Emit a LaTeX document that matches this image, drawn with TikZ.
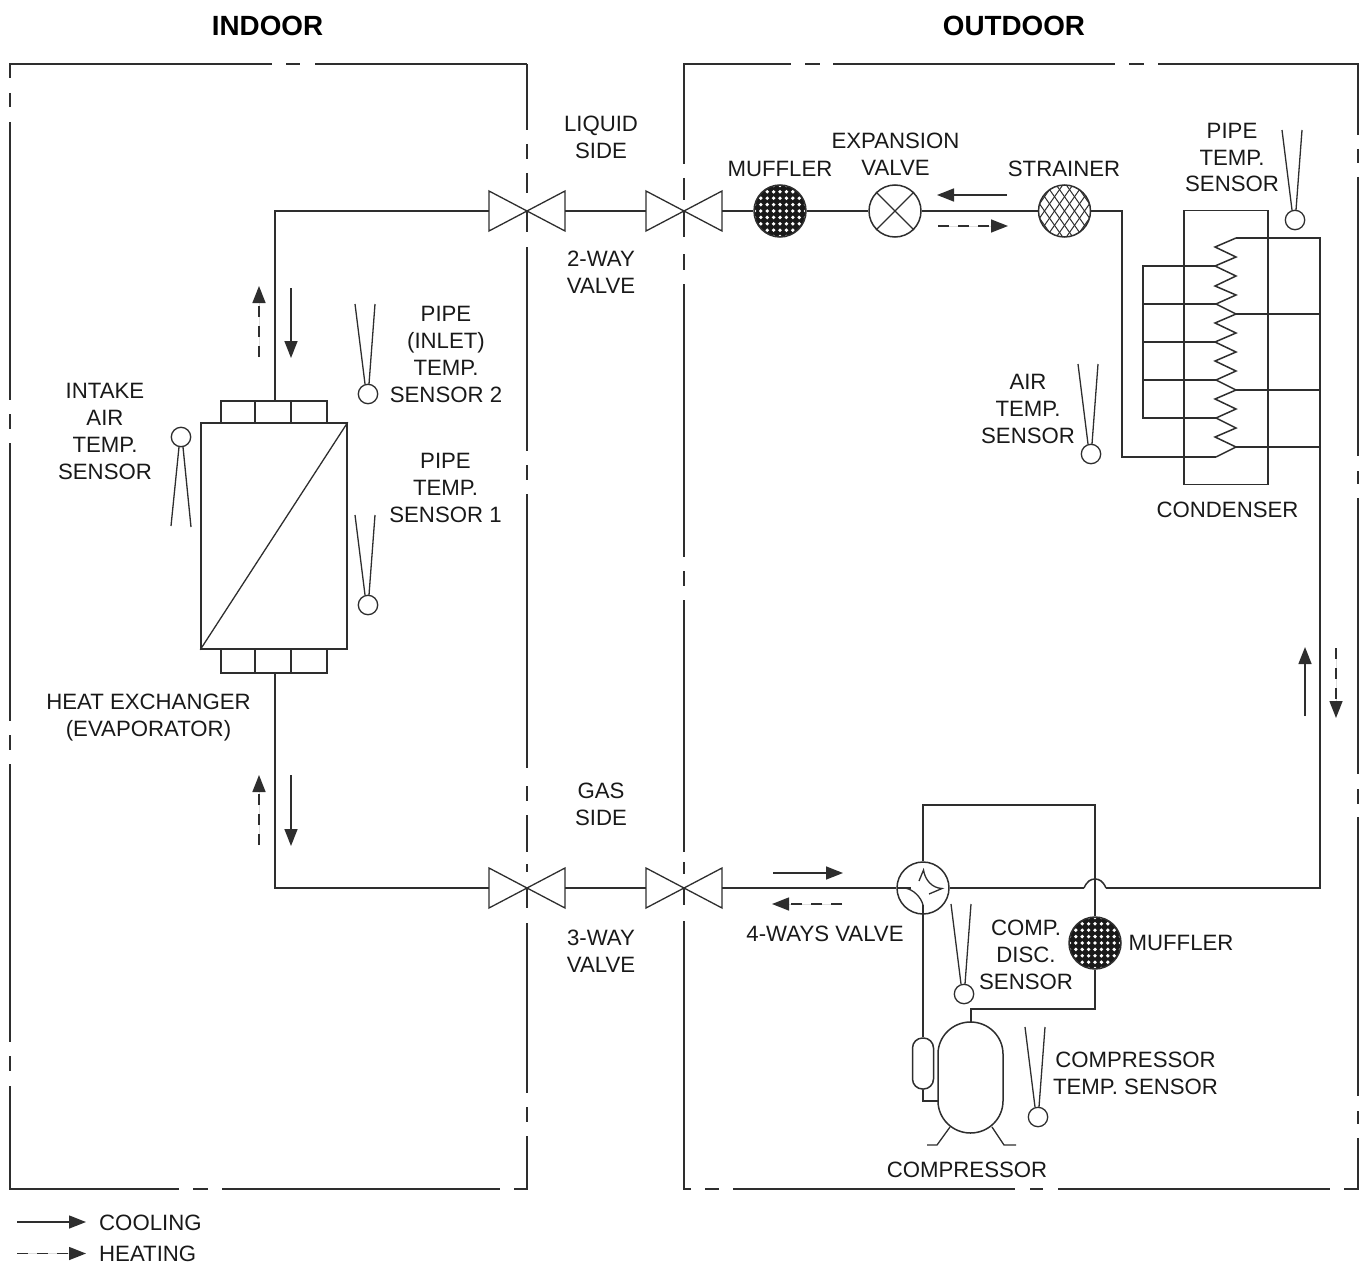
\documentclass[tikz,border=0pt]{standalone}
\usepackage{fontspec}
\setmainfont{Liberation Sans}
\usetikzlibrary{arrows.meta}
\definecolor{ink}{HTML}{2E2E2E}
\tikzset{
  pipe/.style={draw=ink,line width=1.5pt},
  bound/.style={draw=ink,line width=1.6pt},
  thinpart/.style={draw=ink,line width=1.3pt},
  label/.style={align=center,inner sep=0pt,text=black!90,font=\fontsize{22.2}{26.8}\selectfont},
  title/.style={inner sep=0pt,text=black,font=\bfseries\fontsize{27.8}{30}\selectfont},
  round part/.style={circle,draw=ink,line width=1.5pt,minimum size=52pt,inner sep=0pt},
  flowtip/.style={-{Triangle[length=17pt,width=13pt]},line width=1.5pt,draw=ink,fill=black},
  cool/.style={flowtip},
  heat/.style={flowtip,dash pattern=on 11pt off 9pt},
  valvepic/.pic={\draw[thinpart,line join=miter] (-38,-20)--(38,20)--(38,-20)--(-38,20)--cycle;},
  sensordown/.pic={\draw[thinpart] (0,0) circle[radius=9.7];
    \draw[thinpart] (-3,-10)--(-13,-90) (1,-10)--(7,-90);},
  sensorup/.pic={\draw[thinpart] (0,0) circle[radius=9.7];
    \draw[thinpart] (-2,10)--(-10,89) (2,10)--(10,90);},
  mufflerpic/.pic={\begin{scope}
      \clip (0,0) circle[radius=26];
      \fill[black!90] (-27,-27) rectangle (27,27);
      \foreach \i in {-4,...,4}\foreach \j in {-4,...,4}
        \fill[white] (\i*6.4,\j*6.4) circle[radius=1.9];
    \end{scope}},
  strainerpic/.pic={\begin{scope}
      \clip (0,0) circle[radius=26];
      \foreach \i in {-6,...,6}{
        \draw[ink,line width=1pt] (\i*10-21,-30)--(\i*10+21,30);
        \draw[ink,line width=1pt] (\i*10+21,-30)--(\i*10-21,30);}
    \end{scope}},
}
\begin{document}
\begin{tikzpicture}[x=1pt,y=-1pt]
\useasboundingbox (0,0) rectangle (1367,1268);

% enclosure outlines
\draw[bound] (10,78)--(10,64)--(272,64);
\foreach \a/\b in {286/300,315/527} \draw[bound] (\a,64)--(\b,64);
\foreach \a/\b in {93/107,122/400,414/429,443/721,735/750,764/1042,1056/1071} \draw[bound] (10,\a)--(10,\b);
\draw[bound] (10,1086)--(10,1189)--(179,1189);
\foreach \a/\b in {193/208,222/500} \draw[bound] (\a,1189)--(\b,1189);
\draw[bound] (514,1189)--(527,1189)--(527,1136);
\draw[bound] (527,64)--(527,130);
\foreach \a/\b in {144/159,173/193,211/232,247/451,465/480,494/768,786/801,815/852,864/872,888/908,923/1093,1107/1122} \draw[bound] (527,\a)--(527,\b);

\draw[bound] (684,164)--(684,64)--(791,64);
\foreach \a/\b in {805/820,833/1115,1129/1144} \draw[bound] (\a,64)--(\b,64);
\draw[bound] (1158,64)--(1358,64)--(1358,135);
\foreach \a/\b in {149/163,177/456,471/484,498/774,789/804,817/1096,1111/1124} \draw[bound] (1358,\a)--(1358,\b);
\draw[bound] (1358,1138)--(1358,1189)--(1344,1189);
\foreach \a/\b in {733/1015,1030/1043,1058/1330,705/719} \draw[bound] (\a,1189)--(\b,1189);
\draw[bound] (691,1189)--(684,1189)--(684,921);
\foreach \a/\b in {178/200,211/237,254/270,284/557,571/586,600/852,862/874,888/905} \draw[bound] (684,\a)--(684,\b);

% titles
\node[title] (tIn) at (267.5,26) {INDOOR};
\node[title] (tOut) at (1014,26) {OUTDOOR};

% valves
\coordinate (vA) at (527,211); \coordinate (vAw) at (489,211); \coordinate (vAe) at (565,211);
\coordinate (vB) at (684,211); \coordinate (vBw) at (646,211); \coordinate (vBe) at (722,211);
\coordinate (vC) at (527,888); \coordinate (vCw) at (489,888); \coordinate (vCe) at (565,888);
\coordinate (vD) at (684,888); \coordinate (vDw) at (646,888); \coordinate (vDe) at (722,888);
\foreach \v in {vA,vB,vC,vD} \pic at (\v) {valvepic};

% round parts
\pic at (780,211) {mufflerpic};
\pic at (1095,943) {mufflerpic};
\pic at (1064.5,211) {strainerpic};
\node[round part] (mufA) at (780,211) {};
\node[round part] (expv) at (895,211) {};
\node[round part] (strn) at (1064.5,211) {};
\node[round part] (mufB) at (1095,943) {};
\node[round part] (fway) at (923,888) {};
\draw[thinpart] (expv.45)--(expv.225) (expv.135)--(expv.315);

% 4-way valve internals
\draw[thinpart] (919,881)--(923.5,870) .. controls (925,880) and (932,888) .. (942,888.5)--(929,894);
\draw[thinpart] (898,888)--(911,888);
\draw[thinpart] (904.5,888) .. controls (913,889) and (921,897) .. (923,905);

% indoor coil
\node[draw=ink,line width=1.5pt,inner sep=0pt,minimum width=146pt,minimum height=226pt] (hx) at (274,536) {};
\draw[thinpart] (hx.south west)--(hx.north east);
\foreach \a/\b in {221/255,255/291,291/327}{
  \draw[thinpart] (\a,423) rectangle (\b,401);
  \draw[thinpart] (\a,649) rectangle (\b,673);}
\coordinate (hxT) at (275,401);
\coordinate (hxB) at (275,673);
\coordinate (cnA) at (275,211);
\coordinate (cnB) at (275,888);

% pipes
\draw[pipe] (hxT)--(cnA)--(vAw);
\draw[pipe] (hxB)--(cnB)--(vCw);
\draw[pipe] (vAe)--(vBw);
\draw[pipe] (vCe)--(vDw);
\draw[pipe] (vBe)--(mufA);
\draw[pipe] (mufA)--(expv);
\draw[pipe] (expv)--(strn);
\draw[pipe] (vDe)--(fway.west);

% outdoor coil
\node[draw=ink,line width=1.5pt,inner sep=0pt,minimum width=84pt,minimum height=274pt] (cond) at (1226,347.5) {};
\coordinate (coilA) at (1216,457);
\coordinate (coilB) at (1236,238);
\draw[pipe] (strn)--(1122,211)--(1122,457)--(coilA);
\draw[pipe,line join=miter] (coilB)--(1215,247)--(1236,257)--(1215,266)--(1236,276)--(1215,286)--(1236,295)--(1216,304)
  --(1236,314)--(1215,323)--(1236,333)--(1215,342)--(1236,352)--(1215,361)--(1236,371)--(1216,380)
  --(1236,390)--(1215,399)--(1236,409)--(1216,418)--(1236,428)--(1215,437)--(1236,447)--(coilA);
\draw[pipe] (1216,266)--(1143,266)--(1143,418)--(1216,418);
\foreach \y in {304,342,380} \draw[pipe] (1143,\y)--(1216,\y);
\foreach \y in {314,390,447} \draw[pipe] (1236,\y)--(1320,\y);

\coordinate (hopW) at (1084,888); \coordinate (hopE) at (1106,888);
\draw[pipe] (coilB)--(1320,238)--(1320,888)--(hopE);
\draw[pipe] (hopE) .. controls (1103,881) and (1099,879) .. (1095,879) .. controls (1091,879) and (1087,881) .. (hopW);
\draw[pipe] (hopW)--(fway.east);
\draw[pipe] (fway.north)--(923,805)--(1095,805)--(1095,879);
\draw[pipe] (1095,879)--(mufB);

% compressor
\coordinate (compT) at (971,1022);
\draw[pipe] (mufB)--(1095,1009)--(971,1009)--(compT);
\draw[pipe] (938,1054) arc[start angle=180,end angle=360,x radius=32.5,y radius=32]
  --(1003,1101) arc[start angle=0,end angle=180,x radius=32.5,y radius=32]--cycle;
\draw[thinpart] (950,1127)--(937,1145)--(927,1145);
\draw[thinpart] (992,1127)--(1004,1145)--(1016,1145);
\node[draw=ink,line width=1.5pt,rounded corners=10pt,inner sep=0pt,minimum width=21pt,minimum height=51pt] (accu) at (923,1063.5) {};
\draw[pipe] (923,905)--(accu.north);
\draw[pipe] (accu.south)--(923,1101)--(938,1101);

% sensors
\pic at (1295,220) {sensordown};
\pic at (368,394) {sensordown};
\pic at (368,605) {sensordown};
\pic at (1091,454) {sensordown};
\pic at (964,994) {sensordown};
\pic at (1038,1117) {sensordown};
\pic at (181,437) {sensorup};

% flow arrows
\coordinate (aA1) at (259,357); \coordinate (aA2) at (259,286);
\coordinate (aB1) at (291,288); \coordinate (aB2) at (291,358);
\coordinate (aC1) at (259,845); \coordinate (aC2) at (259,775);
\coordinate (aD1) at (291,775); \coordinate (aD2) at (291,846);
\coordinate (aE1) at (1007,195); \coordinate (aE2) at (937,195);
\coordinate (aF1) at (938,226); \coordinate (aF2) at (1008,226);
\coordinate (aG1) at (773,873); \coordinate (aG2) at (843,873);
\coordinate (aH1) at (842,904); \coordinate (aH2) at (772,904);
\coordinate (aI1) at (1305,716); \coordinate (aI2) at (1305,647);
\coordinate (aJ1) at (1336,648); \coordinate (aJ2) at (1336,718);
\coordinate (lgA1) at (17,1222); \coordinate (lgA2) at (86,1222);
\coordinate (lgB1) at (17,1253.5); \coordinate (lgB2) at (86,1253.5);
\draw[heat] (aA1)--(aA2);
\draw[cool] (aB1)--(aB2);
\draw[heat] (aC1)--(aC2);
\draw[cool] (aD1)--(aD2);
\draw[cool] (aE1)--(aE2);
\draw[heat] (aF1)--(aF2);
\draw[cool] (aG1)--(aG2);
\draw[heat] (aH1)--(aH2);
\draw[cool] (aI1)--(aI2);
\draw[heat] (aJ1)--(aJ2);
\draw[cool] (lgA1)--(lgA2);
\draw[heat] (lgB1)--(lgB2);

% labels
\node[label] (l1) at (601,137.5) {LIQUID\\SIDE};
\node[label] (l2) at (601,272.5) {2-WAY\\VALVE};
\node[label] (l3) at (895.5,154.5) {EXPANSION\\VALVE};
\node[label] (l4) at (780,169) {MUFFLER};
\node[label] (l5) at (1064,169) {STRAINER};
\node[label] (l6) at (1232,157.5) {PIPE\\TEMP.\\SENSOR};
\node[label] (l7) at (446,354.5) {PIPE\\(INLET)\\TEMP.\\SENSOR 2};
\node[label] (l8) at (105,431.5) {INTAKE\\AIR\\TEMP.\\SENSOR};
\node[label] (l9) at (445.5,488) {PIPE\\TEMP.\\SENSOR 1};
\node[label] (l10) at (1028,409) {AIR\\TEMP.\\SENSOR};
\node[label] (l11) at (1227.5,510) {CONDENSER};
\node[label] (l12) at (148.5,717.5) {HEAT EXCHANGER\\(EVAPORATOR)};
\node[label] (l13) at (601,804.5) {GAS\\SIDE};
\node[label] (l14) at (601,951.5) {3-WAY\\VALVE};
\node[label] (l15) at (825,934) {4-WAYS VALVE};
\node[label] (l16) at (1026,955) {COMP.\\DISC.\\SENSOR};
\node[label] (l17) at (1181,943) {MUFFLER};
\node[label] (l18) at (1135.5,1073.5) {COMPRESSOR\\TEMP. SENSOR};
\node[label] (l19) at (967,1170) {COMPRESSOR};
\node[label,anchor=west] (l20) at (99,1223) {COOLING};
\node[label,anchor=west] (l21) at (99,1254) {HEATING};
\end{tikzpicture}
\end{document}
